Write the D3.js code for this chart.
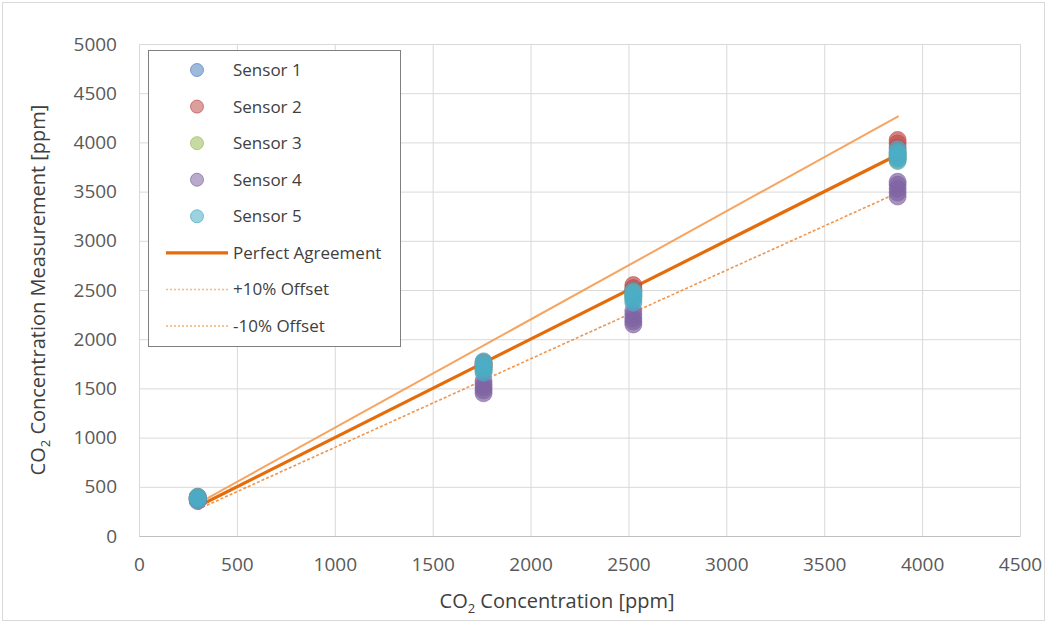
<!DOCTYPE html>
<html>
<head>
<meta charset="utf-8">
<script src="https://cdn.jsdelivr.net/npm/d3@7"></script>
<style>
  body { margin: 0; background: #fff; }
  text { font-family: "Open Sans", "Liberation Sans", sans-serif; }
</style>
</head>
<body>
<svg id="chart"></svg>
<script>
// reference concentrations (x) and what each sensor read (y), several readings per level
const referencePpm = [300, 1760, 2525, 3875];
const sensor1 = [[375, 390, 400], [1690, 1720, 1750], [2440, 2470, 2500], [3840, 3870, 3900]];
const sensor2 = [[370, 385, 395], [1710, 1740, 1765], [2490, 2520, 2550], [3950, 3990, 4025]];
const sensor3 = [[365, 380, 395], [1680, 1710, 1740], [2410, 2440, 2470], [3820, 3850, 3880]];
const sensor4 = [[355, 370, 385], [1450, 1480, 1510, 1540, 1575], [2150, 2180, 2210, 2250, 2290], [3450, 3490, 3530, 3570, 3600]];
const sensor5 = [[365, 380, 395], [1660, 1690, 1720, 1750, 1775], [2370, 2400, 2430, 2460, 2490], [3810, 3840, 3870, 3900, 3930]];

const sensorNames = ["Sensor 1", "Sensor 2", "Sensor 3", "Sensor 4", "Sensor 5"];
const sensorFill = ["#4F81BD", "#C0504D", "#9BBB59", "#8064A2", "#4BACC6"];
const xTicks = [0, 500, 1000, 1500, 2000, 2500, 3000, 3500, 4000, 4500];
const yTicks = [0, 500, 1000, 1500, 2000, 2500, 3000, 3500, 4000, 4500, 5000];
const lineRange = [300, 3880];

const chartSettings = {
    width: 1047,
    height: 623,
    left: 139,
    right: 1020,
    top: 44,
    bottom: 536,
    radius: 8.5,
};

const svg = d3.select("#chart")
    .attr("width", chartSettings.width)
    .attr("height", chartSettings.height);

// outer frame
svg.append("rect")
    .attr("x", 2.5).attr("y", 2.5)
    .attr("width", chartSettings.width - 5)
    .attr("height", chartSettings.height - 5)
    .attr("fill", "#fff")
    .attr("stroke", "#d9d9d9");

const x = d3.scaleLinear().domain([0, 4500]).range([chartSettings.left, chartSettings.right]);
const y = d3.scaleLinear().domain([0, 5000]).range([chartSettings.bottom, chartSettings.top]);

// gridlines
const grid = svg.append("g").attr("class", "grid");
grid.append("g")
    .attr("transform", `translate(0,${chartSettings.bottom})`)
    .call(d3.axisBottom(x).tickValues(xTicks).tickSize(-(chartSettings.bottom - chartSettings.top)).tickFormat(""))
    .call(g => g.select(".domain").remove())
    .call(g => g.selectAll("line").attr("stroke", "#d9d9d9"));
grid.append("g")
    .attr("transform", `translate(${chartSettings.left},0)`)
    .call(d3.axisLeft(y).tickValues(yTicks).tickSize(-(chartSettings.right - chartSettings.left)).tickFormat(""))
    .call(g => g.select(".domain").remove())
    .call(g => g.selectAll("line").attr("stroke", "#d9d9d9"));

// axis labels
svg.append("g")
    .attr("transform", `translate(0,${chartSettings.bottom})`)
    .call(d3.axisBottom(x).tickValues(xTicks).tickSize(0).tickPadding(22).tickFormat(d3.format("d")))
    .call(g => g.select(".domain").attr("stroke", "#bfbfbf"))
    .call(g => g.selectAll("text")
        .attr("fill", "#595959")
        .style("font-size", "19px")
        .style("font-family", "'Open Sans', sans-serif"));

svg.append("g")
    .attr("transform", `translate(${chartSettings.left},0)`)
    .call(d3.axisLeft(y).tickValues(yTicks).tickSize(0).tickPadding(22).tickFormat(d3.format("d")))
    .call(g => g.select(".domain").remove())
    .call(g => g.selectAll("text")
        .attr("fill", "#595959")
        .style("font-size", "19px")
        .style("font-family", "'Open Sans', sans-serif"));

// axis titles with subscript 2
const xTitle = svg.append("text")
    .attr("x", 557)
    .attr("y", 608)
    .attr("text-anchor", "middle")
    .attr("fill", "#404040")
    .style("font-size", "20px");
xTitle.append("tspan").text("CO");
xTitle.append("tspan").attr("dy", 5).style("font-size", "13px").text("2");
xTitle.append("tspan").attr("dy", -5).text(" Concentration [ppm]");

const yTitle = svg.append("text")
    .attr("transform", `translate(45,${(chartSettings.top + chartSettings.bottom) / 2}) rotate(-90)`)
    .attr("text-anchor", "middle")
    .attr("fill", "#404040")
    .style("font-size", "20px");
yTitle.append("tspan").text("CO");
yTitle.append("tspan").attr("dy", 5).style("font-size", "13px").text("2");
yTitle.append("tspan").attr("dy", -5).text(" Concentration Measurement [ppm]");

// agreement lines (drawn first, markers sit on top)
const lineDefs = [
    { name: "Perfect Agreement", factor: 1.0, color: "#E46C0A", width: 3.2, dash: null, opacity: 1 },
    { name: "+10% Offset", factor: 1.1, color: "#F59A4E", width: 2, dash: null, opacity: 0.9 },
    { name: "-10% Offset", factor: 0.9, color: "#EE8A3A", width: 1.6, dash: "3,2", opacity: 0.9 },
];
const line = d3.line().x(d => x(d[0])).y(d => y(d[1]));

lineDefs.forEach(l => {
    svg.append("path")
        .datum(lineRange.map(v => [v, v * l.factor]))
        .attr("d", line)
        .attr("fill", "none")
        .attr("stroke", l.color)
        .attr("stroke-width", l.width)
        .attr("stroke-opacity", l.opacity)
        .attr("stroke-dasharray", l.dash);
});

const sensors = [sensor1, sensor2, sensor3, sensor4, sensor5];
sensors.forEach((readings, si) => {
    const pts = [];
    readings.forEach((vals, li) => vals.forEach(v => pts.push([referencePpm[li], v])));
    svg.append("g").selectAll("circle")
        .data(pts)
        .join("circle")
        .attr("cx", d => x(d[0]))
        .attr("cy", d => y(d[1]))
        .attr("r", chartSettings.radius)
        .attr("fill", sensorFill[si])
        .attr("fill-opacity", 0.7)
        .attr("stroke", sensorFill[si])
        .attr("stroke-opacity", 0.6)
        .attr("stroke-width", 1);
});

// legend
const legend = svg.append("g");
legend.append("rect")
    .attr("x", 148.5).attr("y", 50.5)
    .attr("width", 252).attr("height", 296)
    .attr("fill", "#fff")
    .attr("stroke", "#7f7f7f");

const legendY = d3.scalePoint().domain(d3.range(8)).range([70, 326]);

sensorNames.forEach((name, i) => {
    legend.append("circle")
        .attr("cx", 197).attr("cy", legendY(i))
        .attr("r", 6.5)
        .attr("fill", sensorFill[i])
        .attr("fill-opacity", 0.55)
        .attr("stroke", sensorFill[i])
        .attr("stroke-opacity", 0.7);
    legend.append("text")
        .attr("x", 233).attr("y", legendY(i))
        .attr("dy", "0.35em")
        .attr("fill", "#404040")
        .style("font-size", "17px")
        .text(name);
});

lineDefs.forEach((l, j) => {
    const i = j + 5;
    legend.append("line")
        .attr("x1", 166).attr("x2", 228)
        .attr("y1", legendY(i)).attr("y2", legendY(i))
        .attr("stroke", l.color)
        .attr("stroke-width", j === 0 ? 3.2 : 1.5)
        .attr("stroke-opacity", j === 0 ? 1 : 0.7)
        .attr("stroke-dasharray", j === 0 ? null : "2,2");
    legend.append("text")
        .attr("x", 233).attr("y", legendY(i))
        .attr("dy", "0.35em")
        .attr("fill", "#404040")
        .style("font-size", "17px")
        .text(l.name);
});
</script>
</body>
</html>
